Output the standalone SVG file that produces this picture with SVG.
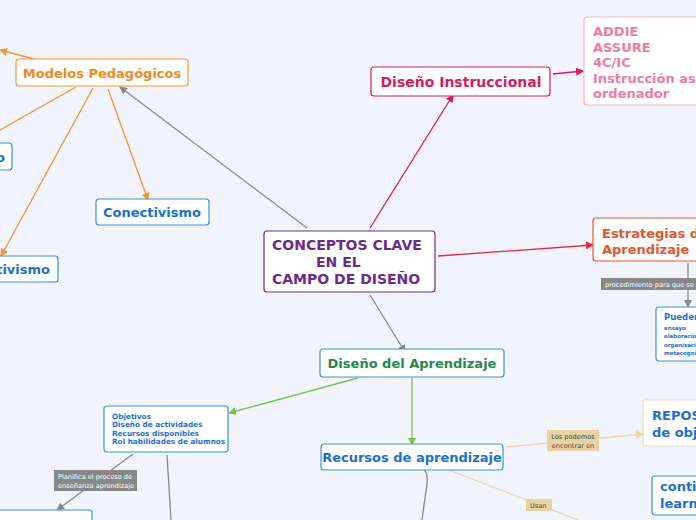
<svg xmlns="http://www.w3.org/2000/svg" width="696" height="520" viewBox="0 0 696 520">
<defs>
<style>
text{font-family:"DejaVu Sans",Verdana,sans-serif;font-weight:bold}
.box{fill:#fff;stroke-width:1.2}
.blue{stroke:#3d8fe0}
.tb{fill:#1a6fd6}
.lbl{font-weight:normal;font-size:6.6px}
.ln{fill:none;stroke-width:1.3}
</style>
<marker id="aGray" markerWidth="8" markerHeight="8" refX="7" refY="4" orient="auto" markerUnits="userSpaceOnUse"><path d="M0,0 L8,4 L0,8 Z" fill="#888"/></marker>
<marker id="aOr" markerWidth="8" markerHeight="8" refX="7" refY="4" orient="auto" markerUnits="userSpaceOnUse"><path d="M0,0 L8,4 L0,8 Z" fill="#f7952f"/></marker>
<marker id="aPink" markerWidth="8" markerHeight="8" refX="7" refY="4" orient="auto" markerUnits="userSpaceOnUse"><path d="M0,0 L8,4 L0,8 Z" fill="#e0185c"/></marker>
<marker id="aRed" markerWidth="8" markerHeight="8" refX="7" refY="4" orient="auto" markerUnits="userSpaceOnUse"><path d="M0,0 L8,4 L0,8 Z" fill="#e8283c"/></marker>
<marker id="aGreen" markerWidth="8" markerHeight="8" refX="7" refY="4" orient="auto" markerUnits="userSpaceOnUse"><path d="M0,0 L8,4 L0,8 Z" fill="#7cc242"/></marker>
<marker id="aTan" markerWidth="8" markerHeight="8" refX="7" refY="4" orient="auto" markerUnits="userSpaceOnUse"><path d="M0,0 L8,4 L0,8 Z" fill="#ecd6a8"/></marker>
</defs>
<rect width="696" height="520" fill="#f1f4fd"/>

<g id="connectors">
<line class="ln" x1="34" y1="59" x2="0" y2="50" stroke="#f7952f" marker-end="url(#aOr)"/>
<line class="ln" x1="76" y1="87" x2="0" y2="130" stroke="#f7952f"/>
<line class="ln" x1="93" y1="88" x2="1" y2="256" stroke="#f7952f" marker-end="url(#aOr)"/>
<line class="ln" x1="108" y1="89" x2="148" y2="200" stroke="#f7952f" marker-end="url(#aOr)"/>
<line class="ln" x1="307" y1="228" x2="120" y2="87" stroke="#888" marker-end="url(#aGray)"/>
<line class="ln" x1="370" y1="228" x2="453" y2="95" stroke="#e0185c" marker-end="url(#aPink)"/>
<line class="ln" x1="553" y1="74" x2="583" y2="71" stroke="#e0185c" marker-end="url(#aPink)"/>
<line class="ln" x1="438" y1="256" x2="593" y2="245" stroke="#e8283c" marker-end="url(#aRed)"/>
<line class="ln" x1="688" y1="263" x2="688" y2="307" stroke="#888" marker-end="url(#aGray)"/>
<line class="ln" x1="370" y1="295" x2="405" y2="352" stroke="#888" marker-end="url(#aGray)"/>
<line class="ln" x1="358" y1="378" x2="229" y2="413" stroke="#7cc242" marker-end="url(#aGreen)"/>
<line class="ln" x1="412" y1="378" x2="412" y2="445" stroke="#7cc242" marker-end="url(#aGreen)"/>
<line class="ln" x1="133" y1="454" x2="57" y2="510" stroke="#888" marker-end="url(#aGray)"/>
<line class="ln" x1="167" y1="455" x2="171" y2="520" stroke="#888"/>
<line class="ln" x1="506" y1="447" x2="643" y2="434" stroke="#ecd6a8" marker-end="url(#aTan)"/>
<line class="ln" x1="449" y1="470" x2="578" y2="520" stroke="#ecd6a8"/>
<path class="ln" d="M424,470 C430,474 426,490 424,505 L422,520" stroke="#888"/>
<g id="labels">
<rect x="601" y="278" width="100" height="12" fill="#888"/>
<text class="lbl" x="605" y="287" fill="#fff">procedimiento para que se p</text>
<rect x="54" y="470" width="83" height="21" fill="#888"/>
<text class="lbl" x="58" y="479" fill="#fff">Planifica el proceso de</text>
<text class="lbl" x="58" y="488" fill="#fff">enseñanza aprendizaje</text>
<rect x="547" y="430" width="52" height="21" fill="#e8d2a2"/>
<text class="lbl" x="573" y="439" fill="#444" text-anchor="middle">Los podemos</text>
<text class="lbl" x="573" y="448" fill="#444" text-anchor="middle">encontrar en</text>
<rect x="526" y="499" width="26" height="12" fill="#e8d2a2"/>
<text class="lbl" x="530" y="508" fill="#444">Usan</text>
</g>
</g>

<g id="modelos">
<rect class="box" x="16" y="59" width="172" height="27" rx="3" stroke="#f7952f"/>
<text x="102" y="78" font-size="13" fill="#f28a1e" text-anchor="middle">Modelos Pedagógicos</text>
</g>
<g id="conductismo">
<rect class="box blue" x="-60" y="143" width="72" height="27" rx="3"/>
<text class="tb" x="5" y="162" font-size="13" text-anchor="end">Conductismo</text>
</g>
<g id="constructivismo">
<rect class="box blue" x="-80" y="256" width="138" height="26" rx="3"/>
<text class="tb" x="50" y="274" font-size="13" text-anchor="end">Constructivismo</text>
</g>
<g id="conectivismo">
<rect class="box blue" x="96" y="199" width="113" height="26" rx="3"/>
<text class="tb" x="152" y="217" font-size="13" text-anchor="middle">Conectivismo</text>
</g>
<g id="conceptos">
<rect class="box" x="264" y="231" width="171" height="61" rx="3" stroke="#6a2c91"/>
<text x="272" y="250" font-size="14" fill="#6b2a8f">CONCEPTOS CLAVE</text>
<text x="316" y="267" font-size="14" fill="#6b2a8f">EN EL</text>
<text x="272" y="284" font-size="14" fill="#6b2a8f">CAMPO DE DISEÑO</text>
</g>
<g id="instruccional">
<rect class="box" x="371" y="67" width="179" height="29" rx="3" stroke="#d81b60"/>
<text x="461" y="87" font-size="14" fill="#d81b60" text-anchor="middle">Diseño Instruccional</text>
</g>
<g id="addie">
<rect class="box" x="584" y="17" width="130" height="88" rx="3" stroke="#f5b3c8"/>
<g font-size="13" fill="#f07aa6">
<text x="593" y="36">ADDIE</text>
<text x="593" y="52">ASSURE</text>
<text x="593" y="67">4C/IC</text>
<text x="593" y="83">Instrucción asistida por</text>
<text x="593" y="98">ordenador</text>
</g>
</g>
<g id="estrategias">
<rect class="box" x="593" y="218" width="130" height="43" rx="3" stroke="#e8542a"/>
<text x="602" y="238" font-size="13" fill="#e8542a">Estrategias de</text>
<text x="602" y="254" font-size="13" fill="#e8542a">Aprendizaje</text>
</g>
<g id="pueden">
<rect class="box blue" x="656" y="307" width="60" height="54" rx="3"/>
<text class="tb" x="664" y="320" font-size="8.5">Pueden</text>
<g class="tb" font-size="5.5">
<text x="664" y="330">ensayo</text>
<text x="664" y="338">elaboración</text>
<text x="664" y="347">organización</text>
<text x="664" y="355">metacognición</text>
</g>
</g>
<g id="disenoAprendizaje">
<rect class="box blue" x="320" y="349" width="184" height="28" rx="3"/>
<text x="412" y="368" font-size="13" fill="#1e8a4c" text-anchor="middle">Diseño del Aprendizaje</text>
</g>
<g id="objetivos">
<rect class="box blue" x="104" y="406" width="124" height="46" rx="3"/>
<g class="tb" font-size="7.3">
<text x="112" y="419">Objetivos</text>
<text x="112" y="427">Diseño de actividades</text>
<text x="112" y="436">Recursos disponibles</text>
<text x="112" y="444">Rol habilidades de alumnos</text>
</g>
</g>
<g id="bottomLeft">
<rect class="box blue" x="-10" y="510" width="102" height="20" rx="3"/>
</g>
<g id="recursos">
<rect class="box blue" x="321" y="444" width="182" height="26" rx="3"/>
<text class="tb" x="412" y="462" font-size="13" text-anchor="middle">Recursos de aprendizaje</text>
</g>
<g id="repositorios">
<rect class="box" x="643" y="400" width="90" height="46" rx="3" stroke="#ecdcb8"/>
<text class="tb" x="652" y="420" font-size="13">REPOSITORIOS</text>
<text class="tb" x="652" y="437" font-size="13">de objetos</text>
</g>
<g id="contienen">
<rect class="box blue" x="652" y="476" width="80" height="39" rx="3"/>
<text class="tb" x="660" y="491" font-size="13">contienen</text>
<text class="tb" x="660" y="508" font-size="13">learning</text>
</g>
</svg>
